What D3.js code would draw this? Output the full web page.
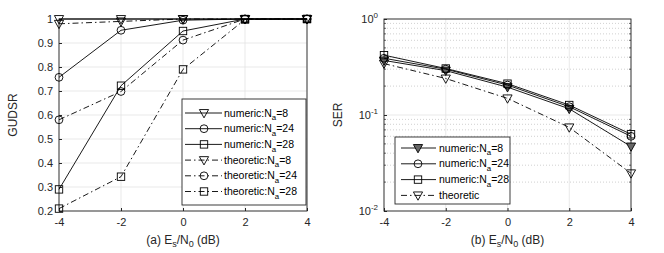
<!DOCTYPE html>
<html>
<head>
<meta charset="utf-8">
<script src="https://cdn.jsdelivr.net/npm/d3@7"></script>
<style>
  body { margin: 0; background: #fff; }
  svg { font-family: "Liberation Sans", Arial, sans-serif; }
</style>
</head>
<body>
<div id="vis-holder"></div>
<script>
// Data
const snr = [-4, -2, 0, 2, 4];

// (a) GUDSR
const gudsrNum8 = [1, 1, 1, 1, 1];
const gudsrNum24 = [0.757, 0.953, 0.995, 1, 1];
const gudsrNum28 = [0.29, 0.722, 0.95, 1, 1];
const gudsrThe8 = [0.98, 0.99, 1, 1, 1];
const gudsrThe24 = [0.58, 0.698, 0.912, 1, 1];
const gudsrThe28 = [0.21, 0.343, 0.79, 0.998, 1];
const gudsrTicks = [0.2, 0.3, 0.4, 0.5, 0.6, 0.7, 0.8, 0.9, 1];

// (b) SER
const serNum8 = [0.37, 0.29, 0.195, 0.116, 0.047];
const serNum24 = [0.39, 0.30, 0.205, 0.122, 0.060];
const serNum28 = [0.42, 0.305, 0.212, 0.127, 0.063];
const serThe = [0.343, 0.24, 0.149, 0.0743, 0.0247];

const xTicks = [-4, -2, 0, 2, 4];

const W = 664, H = 253;
const svg = d3.select("#vis-holder").append("svg")
  .attr("width", W).attr("height", H);

const dashDot = "6,3,1.5,3";

// marker drawing
function marker(g, type, cx, cy, fill) {
  if (type === "tri") {
    const s = 4.6;
    g.append("path")
      .attr("d", `M${cx - s},${cy - s * 0.75} L${cx + s},${cy - s * 0.75} L${cx},${cy + s * 1.05} Z`)
      .attr("fill", fill || "none").attr("stroke", "#000").attr("stroke-width", 0.9);
  } else if (type === "circ") {
    g.append("circle").attr("cx", cx).attr("cy", cy).attr("r", 3.9)
      .attr("fill", fill || "none").attr("stroke", "#000").attr("stroke-width", 0.9);
  } else {
    g.append("rect").attr("x", cx - 3.7).attr("y", cy - 3.7).attr("width", 7.4).attr("height", 7.4)
      .attr("fill", fill || "none").attr("stroke", "#000").attr("stroke-width", 0.9);
  }
}

function frame(g, x0, x1, y0, y1) {
  g.append("rect").attr("x", x0).attr("y", y0).attr("width", x1 - x0).attr("height", y1 - y0)
    .attr("fill", "none").attr("stroke", "#262626").attr("stroke-width", 0.9);
}

function subLabel(sel, pre, sub, post, fs) {
  sel.append("tspan").text(pre);
  sel.append("tspan").text(sub).attr("font-size", fs * 0.75).attr("dy", fs * 0.35);
  sel.append("tspan").text(post).attr("dy", -fs * 0.35);
}

function xLabel(g, cx, pre) {
  const xl = g.append("text").attr("x", cx).attr("y", 244)
    .attr("text-anchor", "middle").attr("font-size", 12).attr("fill", "#262626");
  xl.append("tspan").text(pre + " E");
  xl.append("tspan").text("s").attr("font-size", 9).attr("dy", 3);
  xl.append("tspan").text("/N").attr("dy", -3);
  xl.append("tspan").text("0").attr("font-size", 9).attr("dy", 3);
  xl.append("tspan").text(" (dB)").attr("dy", -3);
}

/* ---------- Plot (a) ---------- */
{
  const x0 = 59, x1 = 307, y0 = 19, y1 = 211;
  const x = d3.scaleLinear().domain([-4, 4]).range([x0, x1]);
  const y = d3.scaleLinear().domain([0.2, 1]).range([y1, y0]);
  const g = svg.append("g");

  // grid
  g.selectAll(".gx").data(xTicks).enter().append("line")
    .attr("x1", d => x(d)).attr("x2", d => x(d)).attr("y1", y0).attr("y2", y1)
    .attr("stroke", "#e3e3e3").attr("stroke-width", 0.8);
  g.selectAll(".gy").data(gudsrTicks).enter().append("line")
    .attr("y1", d => y(d)).attr("y2", d => y(d)).attr("x1", x0).attr("x2", x1)
    .attr("stroke", "#e3e3e3").attr("stroke-width", 0.8);

  // axes with inner ticks
  g.append("g").attr("transform", `translate(0,${y1})`)
    .call(d3.axisBottom(x).tickValues(xTicks).tickSizeInner(-3).tickSizeOuter(0).tickPadding(7).tickFormat(d => String(d)))
    .call(a => a.select(".domain").remove())
    .attr("font-size", 11).attr("font-family", null);
  g.append("g").attr("transform", `translate(${x0},0)`)
    .call(d3.axisLeft(y).tickValues(gudsrTicks).tickSizeInner(-3).tickSizeOuter(0).tickPadding(6).tickFormat(d => d === 1 ? "1" : d3.format(".1f")(d)))
    .call(a => a.select(".domain").remove())
    .attr("font-size", 11).attr("font-family", null);
  g.selectAll(".tick line").attr("stroke", "#262626");
  g.selectAll(".tick text").attr("fill", "#262626");
  frame(g, x0, x1, y0, y1);

  const series = [
    { v: gudsrThe28, m: "sq", dash: dashDot },
    { v: gudsrThe24, m: "circ", dash: dashDot },
    { v: gudsrThe8, m: "tri", dash: dashDot },
    { v: gudsrNum28, m: "sq", dash: null },
    { v: gudsrNum24, m: "circ", dash: null },
    { v: gudsrNum8, m: "tri", dash: null }
  ];
  const line = d3.line().x((d, i) => x(snr[i])).y(d => y(d));
  series.forEach(s => {
    g.append("path").datum(s.v).attr("d", line).attr("fill", "none")
      .attr("stroke", "#000").attr("stroke-width", 0.9)
      .attr("stroke-dasharray", s.dash);
    s.v.forEach((d, i) => marker(g, s.m, x(snr[i]), y(d)));
  });

  // legend
  const lx = 182, ly = 99, lw = 124, lh = 106;
  g.append("rect").attr("x", lx).attr("y", ly).attr("width", lw).attr("height", lh)
    .attr("fill", "#fff").attr("stroke", "#262626").attr("stroke-width", 0.9);
  const leg = [
    { t: "numeric:N", post: "=8", m: "tri", dash: null },
    { t: "numeric:N", post: "=24", m: "circ", dash: null },
    { t: "numeric:N", post: "=28", m: "sq", dash: null },
    { t: "theoretic:N", post: "=8", m: "tri", dash: dashDot },
    { t: "theoretic:N", post: "=24", m: "circ", dash: dashDot },
    { t: "theoretic:N", post: "=28", m: "sq", dash: dashDot }
  ];
  leg.forEach((e, i) => {
    const yy = ly + 14 + i * 15.7;
    g.append("line").attr("x1", lx + 3).attr("x2", lx + 40).attr("y1", yy).attr("y2", yy)
      .attr("stroke", "#000").attr("stroke-width", 0.9).attr("stroke-dasharray", e.dash);
    marker(g, e.m, lx + 22, yy);
    const t = g.append("text").attr("x", lx + 42).attr("y", yy + 3.5)
      .attr("font-size", 10.5).attr("fill", "#000");
    subLabel(t, e.t, "a", e.post, 10.5);
  });

  // axis labels
  g.append("text").attr("transform", `translate(17,${(y0 + y1) / 2}) rotate(-90)`)
    .attr("text-anchor", "middle").attr("font-size", 12).attr("fill", "#262626").text("GUDSR");
  xLabel(g, (x0 + x1) / 2, "(a)");
}

/* ---------- Plot (b) ---------- */
{
  const x0 = 384, x1 = 631, y0 = 19, y1 = 211;
  const x = d3.scaleLinear().domain([-4, 4]).range([x0, x1]);
  const y = d3.scaleLog().domain([0.01, 1]).range([y1, y0]);
  const g = svg.append("g");

  // minor dotted grid
  const minor = [];
  [0.01, 0.1].forEach(b => { for (let k = 2; k <= 9; k++) minor.push(b * k); });
  g.selectAll(".gm").data(minor).enter().append("line")
    .attr("y1", d => y(d)).attr("y2", d => y(d)).attr("x1", x0).attr("x2", x1)
    .attr("stroke", "#bdbdbd").attr("stroke-width", 0.7).attr("stroke-dasharray", "1,2");
  g.selectAll(".gx").data(xTicks).enter().append("line")
    .attr("x1", d => x(d)).attr("x2", d => x(d)).attr("y1", y0).attr("y2", y1)
    .attr("stroke", "#e3e3e3").attr("stroke-width", 0.8);
  g.selectAll(".gy").data([0.01, 0.1, 1]).enter().append("line")
    .attr("y1", d => y(d)).attr("y2", d => y(d)).attr("x1", x0).attr("x2", x1)
    .attr("stroke", "#e3e3e3").attr("stroke-width", 0.8);

  g.append("g").attr("transform", `translate(0,${y1})`)
    .call(d3.axisBottom(x).tickValues(xTicks).tickSizeInner(-3).tickSizeOuter(0).tickPadding(7).tickFormat(d => String(d)))
    .call(a => a.select(".domain").remove())
    .attr("font-size", 11).attr("font-family", null);
  const ya = g.append("g").attr("transform", `translate(${x0},0)`)
    .call(d3.axisLeft(y).tickValues([0.01, 0.1, 1]).tickSizeInner(-3).tickSizeOuter(0).tickPadding(6).tickFormat(() => ""))
    .call(a => a.select(".domain").remove())
    .attr("font-size", 11).attr("font-family", null);
  ya.selectAll(".tick text").each(function (d) {
    const t = d3.select(this);
    t.append("tspan").text("10");
    t.append("tspan").text(String(Math.round(Math.log10(d))).replace("\u2212", "-")).attr("font-size", 8).attr("dy", -5);
  });
  // minor ticks on the left and right
  g.selectAll(".mt").data(minor).enter().append("line")
    .attr("x1", x0).attr("x2", x0 + 2).attr("y1", d => y(d)).attr("y2", d => y(d))
    .attr("stroke", "#262626").attr("stroke-width", 0.7);
  g.selectAll(".mtr").data(minor).enter().append("line")
    .attr("x1", x1).attr("x2", x1 - 2).attr("y1", d => y(d)).attr("y2", d => y(d))
    .attr("stroke", "#262626").attr("stroke-width", 0.7);
  g.selectAll(".tick line").attr("stroke", "#262626");
  g.selectAll(".tick text").attr("fill", "#262626");
  frame(g, x0, x1, y0, y1);

  const series = [
    { v: serThe, m: "tri", dash: dashDot, fill: null },
    { v: serNum8, m: "tri", dash: null, fill: "#666" },
    { v: serNum24, m: "circ", dash: null, fill: null },
    { v: serNum28, m: "sq", dash: null, fill: null }
  ];
  const line = d3.line().x((d, i) => x(snr[i])).y(d => y(d));
  series.forEach(s => {
    g.append("path").datum(s.v).attr("d", line).attr("fill", "none")
      .attr("stroke", "#000").attr("stroke-width", 0.9)
      .attr("stroke-dasharray", s.dash);
    s.v.forEach((d, i) => marker(g, s.m, x(snr[i]), y(d), s.fill));
  });

  const lx = 395, ly = 137, lw = 115, lh = 67;
  g.append("rect").attr("x", lx).attr("y", ly).attr("width", lw).attr("height", lh)
    .attr("fill", "#fff").attr("stroke", "#262626").attr("stroke-width", 0.9);
  const leg = [
    { t: "numeric:N", sub: "a", post: "=8", m: "tri", dash: null, fill: "#666" },
    { t: "numeric:N", sub: "a", post: "=24", m: "circ", dash: null, fill: null },
    { t: "numeric:N", sub: "a", post: "=28", m: "sq", dash: null, fill: null },
    { t: "theoretic", sub: null, post: "", m: "tri", dash: dashDot, fill: null }
  ];
  leg.forEach((e, i) => {
    const yy = ly + 11 + i * 15.8;
    g.append("line").attr("x1", lx + 6).attr("x2", lx + 41).attr("y1", yy).attr("y2", yy)
      .attr("stroke", "#000").attr("stroke-width", 0.9).attr("stroke-dasharray", e.dash);
    marker(g, e.m, lx + 23, yy, e.fill);
    const t = g.append("text").attr("x", lx + 44).attr("y", yy + 3.5)
      .attr("font-size", 10.5).attr("fill", "#000");
    if (e.sub) subLabel(t, e.t, e.sub, e.post, 10.5);
    else t.text(e.t);
  });

  g.append("text").attr("transform", `translate(342,${(y0 + y1) / 2}) rotate(-90)`)
    .attr("text-anchor", "middle").attr("font-size", 12).attr("fill", "#262626").text("SER");
  xLabel(g, (x0 + x1) / 2, "(b)");
}
</script>
</body>
</html>
